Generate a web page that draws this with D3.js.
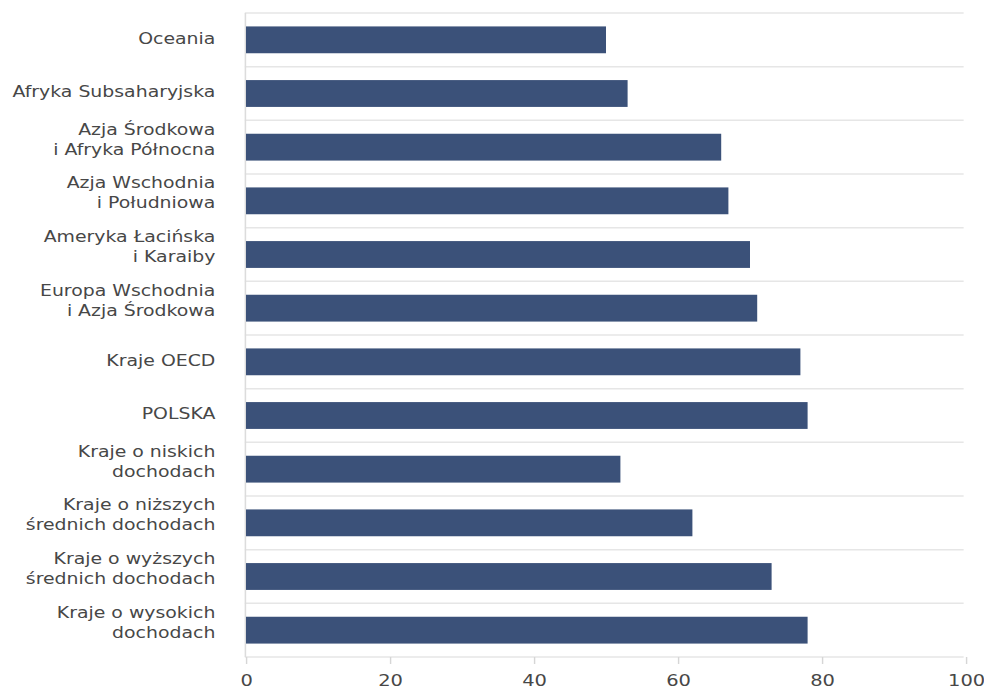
<!DOCTYPE html>
<html>
<head>
<meta charset="utf-8">
<script src="https://cdn.jsdelivr.net/npm/d3@7"></script>
<style>
  html, body { margin: 0; padding: 0; background: #fff; }
  svg { display: block; }
  text { font-family: "DejaVu Sans", sans-serif; fill: #474747; }
</style>
</head>
<body>
<div id="chart"></div>
<script>
// Labels (multi-line split on "|") and values
var categories = [
  "Oceania",
  "Afryka Subsaharyjska",
  "Azja Środkowa|i Afryka Północna",
  "Azja Wschodnia|i Południowa",
  "Ameryka Łacińska|i Karaiby",
  "Europa Wschodnia|i Azja Środkowa",
  "Kraje OECD",
  "POLSKA",
  "Kraje o niskich|dochodach",
  "Kraje o niższych|średnich dochodach",
  "Kraje o wyższych|średnich dochodach",
  "Kraje o wysokich|dochodach"
];
var values = [50, 53, 66, 67, 70, 71, 77, 78, 52, 62, 73, 78];
var xTicks = [0, 20, 40, 60, 80, 100];

// The picture is stretched horizontally, so draw in a narrower box and stretch it
var stretch = 1.18,
  svgW = 984, svgH = 692,
  vw = svgW / stretch;

var margin = {top: 13, left: 246 / stretch, right: vw - 966 / stretch, bottom: svgH - 657},
  width = vw - margin.left - margin.right,
  height = svgH - margin.top - margin.bottom;

var svg = d3.select("#chart").append("svg")
  .attr("width", svgW)
  .attr("height", svgH)
  .attr("viewBox", "0 0 " + vw + " " + svgH)
  .attr("preserveAspectRatio", "none");

var g = svg.append("g")
  .attr("transform", "translate(" + margin.left + "," + margin.top + ")");

var xScale = d3.scaleLinear().domain([0, 100]).range([0, width]);
var yScale = d3.scaleBand().domain(d3.range(categories.length)).range([0, height])
  .paddingInner(0.5).paddingOuter(0.25);
var step = yScale.step();

// Horizontal separators between categories
g.append("g")
  .selectAll("line")
  .data(d3.range(categories.length + 1)).enter().append("line")
    .attr("x1", -1)
    .attr("x2", xScale(100) - 2)
    .attr("y1", function(d) { return d * step; })
    .attr("y2", function(d) { return d * step; })
    .attr("stroke", "#e6e6e6")
    .attr("stroke-width", 1.5);

// Left axis line
g.append("line")
  .attr("x1", -0.5).attr("x2", -0.5)
  .attr("y1", 0).attr("y2", height)
  .attr("stroke", "#dcdcdc")
  .attr("stroke-width", 1.3);

// Bars
g.append("g")
  .selectAll("rect")
  .data(values).enter().append("rect")
    .attr("x", 0)
    .attr("y", function(d, i) { return yScale(i); })
    .attr("width", function(d) { return xScale(d); })
    .attr("height", yScale.bandwidth())
    .attr("fill", "#3b5179");

// Category labels
var labels = g.append("g")
  .selectAll("text")
  .data(categories).enter().append("text")
    .attr("x", 182.5 - margin.left)
    .attr("text-anchor", "end")
    .attr("font-size", "16px");
labels.each(function(d, i) {
  var lines = d.split("|"),
    c = yScale(i) + yScale.bandwidth() / 2,
    y0 = c + 4 - (lines.length - 1) * 16.5;
  d3.select(this).selectAll("tspan")
    .data(lines).enter().append("tspan")
      .attr("x", 182.5 - margin.left)
      .attr("y", function(l, j) { return y0 + j * 20; })
      .text(function(l) { return l; });
});

// X axis
var xAxis = g.append("g")
  .attr("transform", "translate(0," + height + ")")
  .call(d3.axisBottom(xScale).tickValues(xTicks).tickSize(7).tickPadding(10).tickSizeOuter(0));
xAxis.select(".domain").remove();
xAxis.selectAll(".tick line").attr("stroke", "#d6d6d6").attr("stroke-width", 1.2);
xAxis.selectAll(".tick text")
  .attr("font-family", "DejaVu Sans, sans-serif")
  .attr("font-size", "16.5px")
  .attr("fill", "#474747");
</script>
</body>
</html>
